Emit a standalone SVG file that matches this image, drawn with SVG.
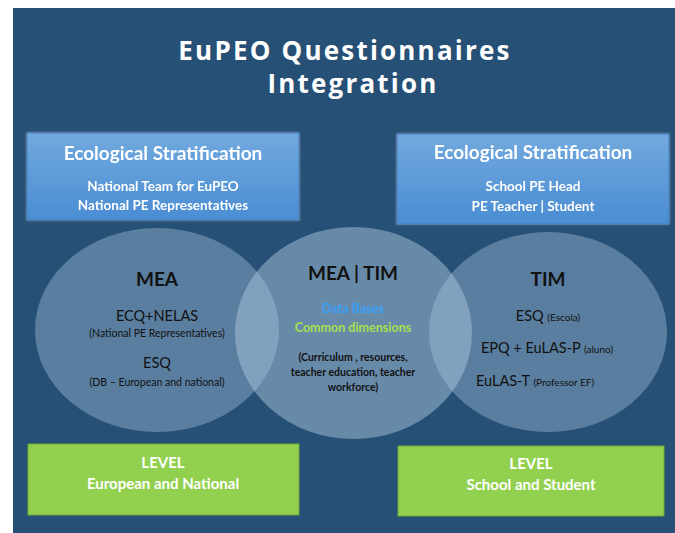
<svg xmlns="http://www.w3.org/2000/svg" width="675" height="533" viewBox="0 0 675 533">
<defs>
<linearGradient id="blueGrad" x1="0" y1="0" x2="0" y2="1">
<stop offset="0" stop-color="#72a9de"/>
<stop offset="1" stop-color="#4a8dd3"/>
</linearGradient>
<filter id="glow" x="-10%" y="-30%" width="120%" height="160%">
<feGaussianBlur in="SourceAlpha" stdDeviation="1.2" result="b"/>
<feFlood flood-color="#ffffff" flood-opacity="0.35"/>
<feComposite in2="b" operator="in" result="g"/>
<feMerge><feMergeNode in="g"/><feMergeNode in="SourceGraphic"/></feMerge>
</filter>
</defs>
<style>
.bg{fill:#265075}
.strat{fill:url(#blueGrad);stroke:#3f7fbf;stroke-width:1}
.level{fill:#92d050;stroke:#6fa83a;stroke-width:1}
.side{fill:#a9c4de;fill-opacity:0.4}
.mid{fill:#a9c4de;fill-opacity:0.5}
.title{font-family:"Open Sans","DejaVu Sans",sans-serif;font-weight:bold;font-size:26px;letter-spacing:2.2px;fill:#ffffff;text-anchor:middle}
.hdr{font-family:Lato,"Liberation Sans",sans-serif;font-weight:bold;font-size:19px;fill:#ffffff;text-anchor:middle}
.sub{font-family:Lato,"Liberation Sans",sans-serif;font-weight:bold;font-size:13.5px;fill:#ffffff;text-anchor:middle}
.lv{font-family:Lato,"Liberation Sans",sans-serif;font-weight:bold;font-size:15px;fill:#ffffff;text-anchor:middle}
.big{font-family:Lato,"Liberation Sans",sans-serif;font-weight:bold;font-size:19px;fill:#111111;text-anchor:middle}
.item{font-family:Lato,"Liberation Sans",sans-serif;font-size:14.5px;fill:#111111;text-anchor:middle}
.note{font-family:Lato,"Liberation Sans",sans-serif;font-size:10.5px;fill:#111111;text-anchor:middle}
.sm{font-size:10px}
.db{font-family:Lato,"Liberation Sans",sans-serif;font-weight:bold;font-size:12.5px;fill:#3aa0f5;text-anchor:middle}
.cd{font-family:Lato,"Liberation Sans",sans-serif;font-weight:bold;font-size:12.5px;fill:#a6e04e;text-anchor:middle}
.mn{font-family:Lato,"Liberation Sans",sans-serif;font-weight:bold;font-size:10.5px;fill:#111111;text-anchor:middle}
</style>
<rect class="bg" x="13" y="8" width="662" height="525"/>
<g id="title">
<text class="title" x="345" y="60">EuPEO Questionnaires</text>
<text class="title" x="353" y="93">Integration</text>
</g>
<g id="strat-left" filter="url(#glow)">
<rect class="strat" x="27" y="133" width="272" height="87"/>
<text class="hdr" x="163" y="160">Ecological Stratification</text>
<text class="sub" x="163" y="191">National Team for EuPEO</text>
<text class="sub" x="163" y="210">National PE Representatives</text>
</g>
<g id="strat-right" filter="url(#glow)">
<rect class="strat" x="397" y="134" width="272" height="90"/>
<text class="hdr" x="533" y="159">Ecological Stratification</text>
<text class="sub" x="533" y="191">School PE Head</text>
<text class="sub" x="533" y="211">PE Teacher | Student</text>
</g>
<g id="mea">
<ellipse class="side" cx="157" cy="330" rx="122" ry="102"/>
<text class="big" x="157" y="286">MEA</text>
<text class="item" x="157" y="321">ECQ+NELAS</text>
<text class="note" x="157" y="337">(National PE Representatives)</text>
<text class="item" x="157" y="368">ESQ</text>
<text class="note" x="157" y="386">(DB – European and national)</text>
</g>
<g id="tim">
<ellipse class="side" cx="548" cy="332" rx="119" ry="100"/>
<text class="big" x="548" y="286">TIM</text>
<text class="item" x="548" y="321">ESQ <tspan class="sm">(Escola)</tspan></text>
<text class="item" x="547" y="353">EPQ + EuLAS-P <tspan class="sm">(aluno)</tspan></text>
<text class="item" x="535" y="386">EuLAS-T <tspan class="sm">(Professor EF)</tspan></text>
</g>
<g id="mea-tim">
<ellipse class="mid" cx="353.5" cy="333" rx="118.5" ry="106"/>
<text class="big" x="353" y="280">MEA | TIM</text>
<text class="db" x="353" y="313">Data Bases</text>
<text class="cd" x="353" y="332">Common dimensions</text>
<text class="mn" x="353" y="361">(Curriculum , resources,</text>
<text class="mn" x="353" y="376">teacher education, teacher</text>
<text class="mn" x="353" y="391">workforce)</text>
</g>
<g id="level-left">
<rect class="level" x="28" y="444" width="271" height="71"/>
<text class="lv" x="163" y="468">LEVEL</text>
<text class="lv" x="163" y="489">European and National</text>
</g>
<g id="level-right">
<rect class="level" x="398" y="446" width="266" height="70"/>
<text class="lv" x="531" y="469">LEVEL</text>
<text class="lv" x="531" y="490">School and Student</text>
</g>
<g id="connectors"/>
</svg>
